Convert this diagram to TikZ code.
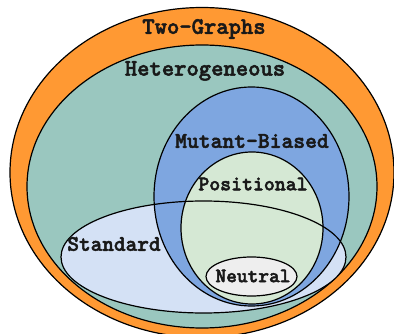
\documentclass[tikz,border=0pt]{standalone}
\usepackage{fontspec}
\newfontfamily\lmdark[FakeBold=2.2]{lmmonolt10-bold.otf}
\definecolor{cOrange}{HTML}{FF9933}
\definecolor{cTeal}{HTML}{9AC7BF}
\definecolor{cBlue}{HTML}{7EA6E0}
\definecolor{cGreen}{HTML}{D5E8D4}
\definecolor{cStd}{HTML}{D4E1F5}
\definecolor{cNeu}{HTML}{EEEEEE}
\tikzset{
  setline/.style={draw=black, line width=1.2pt},
  lbl/.style={inner sep=0pt, text=black!90},
}
\newcommand{\lblfont}[1]{\fontsize{#1}{#1}\lmdark}
\begin{document}
\begin{tikzpicture}[x=1pt,y=-1pt]
\useasboundingbox (0,0) rectangle (394,334);
\clip (0,0) rectangle (394,334);
% sets
\path[setline, fill=cOrange] (202,172.5) ellipse [x radius=192, y radius=165];
\path[setline, fill=cTeal] (202,186.5) ellipse [x radius=175, y radius=141.5];
\path[fill=cStd] (203.5,257) ellipse [x radius=142.5, y radius=56];
\path[setline, fill=cBlue] (251.5,196.5) ellipse [x radius=97.5, y radius=109.5];
\path[setline, fill=cGreen] (252,228) ellipse [x radius=71, y radius=76];
\path[setline] (203.5,257) ellipse [x radius=142.5, y radius=56];
\path[setline, fill=cNeu] (251.5,276.5) ellipse [x radius=45.5, y radius=19.5];
% labels
\node[lbl, font=\lblfont{23.5}] (two) at (204,29) {Two-Graphs};
\node[lbl, font=\lblfont{23.5}] (het) at (205,71) {Heterogeneous};
\node[lbl, font=\lblfont{22.5}] (mut) at (252,141) {Mutant-Biased};
\node[lbl, font=\lblfont{20.8}] (pos) at (253,184) {Positional};
\node[lbl, font=\lblfont{22.2}] (std) at (114,244) {Standard};
\node[lbl, font=\lblfont{20.4}] (neu) at (253,276) {Neutral};
\end{tikzpicture}
\end{document}
